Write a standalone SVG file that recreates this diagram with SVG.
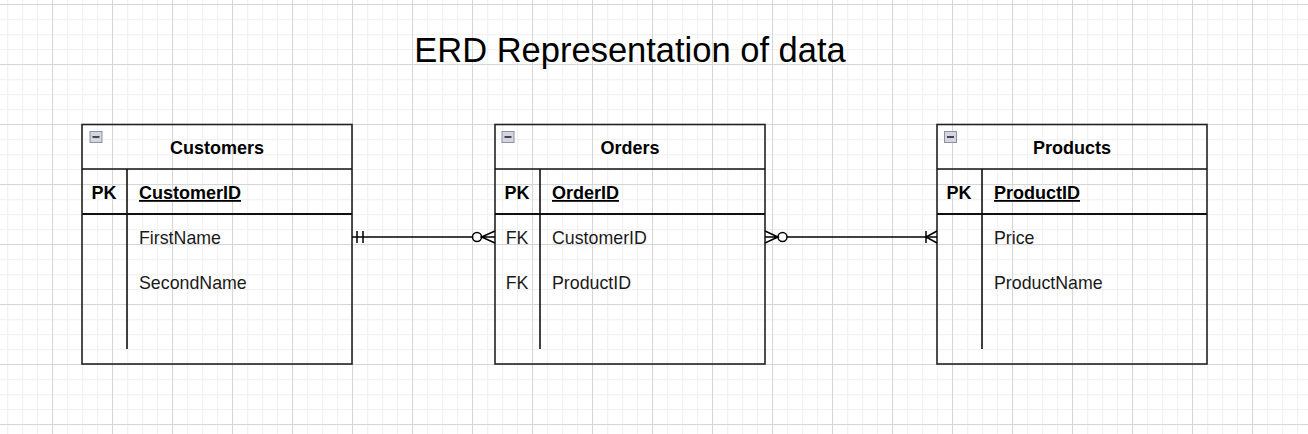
<svg xmlns="http://www.w3.org/2000/svg" width="1308" height="434" viewBox="0 0 1308 434">
<defs>
<pattern id="minor" width="15" height="15" x="7" y="4" patternUnits="userSpaceOnUse">
<path d="M0.5 0V15M0 0.5H15" stroke="#f2f2f2" stroke-width="1.5" fill="none"/>
</pattern>
<pattern id="major" width="60" height="60" x="52" y="4" patternUnits="userSpaceOnUse">
<path d="M0.5 0V60M0 0.5H60" stroke="#d6d6d6" stroke-width="1" fill="none"/>
</pattern>
<g id="minus">
<rect x="0.5" y="0.5" width="12" height="11" fill="#d3d6e0" stroke="#8c90a0"/>
<line x1="3" y1="6" x2="10" y2="6" stroke="#222" stroke-width="1.6"/>
</g>
</defs>
<style>
.frame{fill:none;stroke:#222;stroke-width:1.6}
.sep{stroke:#111;stroke-width:2}
.div{stroke:#111;stroke-width:1.6}
.title{font-family:"Liberation Sans",Arial,sans-serif;font-size:18px;font-weight:bold;fill:#000;text-anchor:middle}
.key{font-family:"Liberation Sans",Arial,sans-serif;font-size:18px;font-weight:bold;fill:#000}
.fld{font-family:"Liberation Sans",Arial,sans-serif;font-size:17.8px;fill:#1a1a1a}
.kc{text-anchor:middle}
.conn{stroke:#000;stroke-width:1.5;fill:none}
</style>
<rect width="1308" height="434" fill="#fff"/>
<rect width="1308" height="434" fill="url(#minor)"/>
<rect width="1308" height="434" fill="url(#major)"/>
<text x="630" y="62" font-family="Liberation Sans,Arial,sans-serif" font-size="34.5" fill="#000" text-anchor="middle">ERD Representation of data</text>

<g id="customers">
<rect class="frame" x="82" y="124.5" width="270" height="239.5"/>
<line class="div" x1="82" y1="169" x2="352" y2="169"/>
<line class="sep" x1="82" y1="214" x2="352" y2="214"/>
<line class="div" x1="127" y1="169" x2="127" y2="349"/>
<use href="#minus" x="89.5" y="131"/>
<text class="title" x="217" y="154">Customers</text>
<text class="key kc" x="104" y="199">PK</text>
<text class="key" x="139" y="199" text-decoration="underline">CustomerID</text>
<text class="fld" x="139" y="244">FirstName</text>
<text class="fld" x="139" y="289">SecondName</text>
</g>

<g id="orders">
<rect class="frame" x="495" y="124.5" width="270" height="239.5"/>
<line class="div" x1="495" y1="169" x2="765" y2="169"/>
<line class="sep" x1="495" y1="214" x2="765" y2="214"/>
<line class="div" x1="540" y1="169" x2="540" y2="349"/>
<use href="#minus" x="501.5" y="131"/>
<text class="title" x="630" y="154">Orders</text>
<text class="key kc" x="517" y="199">PK</text>
<text class="key" x="552" y="199" text-decoration="underline">OrderID</text>
<text class="fld kc" x="517" y="244">FK</text>
<text class="fld" x="552" y="244">CustomerID</text>
<text class="fld kc" x="517" y="289">FK</text>
<text class="fld" x="552" y="289">ProductID</text>
</g>

<g id="products">
<rect class="frame" x="937" y="124.5" width="270" height="239.5"/>
<line class="div" x1="937" y1="169" x2="1207" y2="169"/>
<line class="sep" x1="937" y1="214" x2="1207" y2="214"/>
<line class="div" x1="982" y1="169" x2="982" y2="349"/>
<use href="#minus" x="944" y="131"/>
<text class="title" x="1072" y="154">Products</text>
<text class="key kc" x="959" y="199">PK</text>
<text class="key" x="994" y="199" text-decoration="underline">ProductID</text>
<text class="fld" x="994" y="244">Price</text>
<text class="fld" x="994" y="289">ProductName</text>
</g>

<g id="connectors">
<path class="conn" d="M352 237H472.5"/>
<path class="conn" d="M357 231V243M363 231V243"/>
<circle class="conn" cx="477" cy="237" r="4.5" fill="#fff"/>
<path class="conn" d="M495 231L481.5 237L495 243M481.5 237H495"/>
<path class="conn" d="M765 231L778 237L765 243M765 237H778"/>
<circle class="conn" cx="782.5" cy="237" r="4.5" fill="#fff"/>
<path class="conn" d="M787 237H937"/>
<path class="conn" d="M926 231V243M937 231L926 237L937 243"/>
</g>
</svg>
